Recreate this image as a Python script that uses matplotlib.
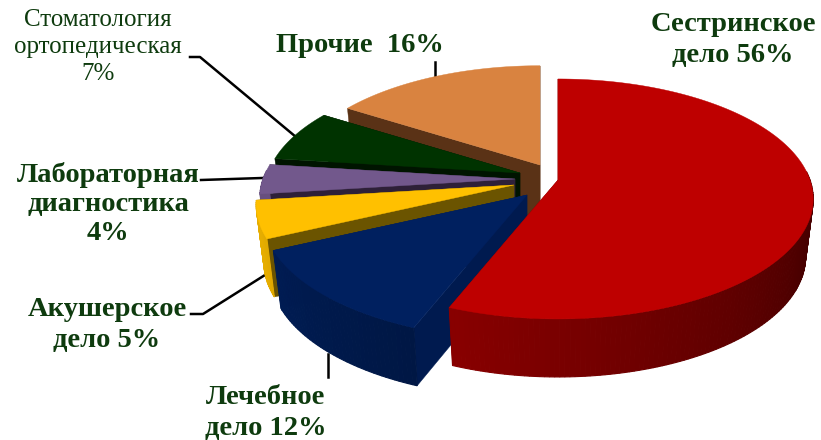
import numpy as np
import matplotlib
matplotlib.use('Agg')
import matplotlib.pyplot as plt

# share of each speciality, clockwise from 12 o'clock
specialities = ['Сестринское', 'Лечебное', 'Акушерское', 'Лабораторная', 'Стоматология', 'Прочие']
shares = [56, 12, 5, 4, 7, 16]
label_texts = ['Сестринское\nдело {}%', 'Лечебное\nдело {}%', 'Акушерское\nдело {}%',
               'Лабораторная\nдиагностика\n{}%', 'Стоматология\nортопедическая\n{}%', 'Прочие  {}%']

top_colors = ['#BE0000', '#00205F', '#FFC000', '#72588C', '#003300', '#D98340']
cut_colors = ['#7A0000', '#001A4F', '#6B5400', '#2E2038', '#001400', '#5A3216']
# where the tip of each exploded slice sits, pixels, and a small radius correction
tips = [(558, 180), (527, 195), (514, 185), (515, 179), (520, 173), (540, 165)]
radius = [1.0, 1.035, 1.01, 1.0, 1.0, 0.98]
label_pos = [(733, 40), (266, 413), (107, 325), (108, 204), (98, 47), (360, 45)]
label_size = [20.5, 20.5, 20.5, 20.5, 18, 20.5]
label_weight = ['bold', 'bold', 'bold', 'bold', 'normal', 'bold']
label_spacing = [1.33, 1.33, 1.33, 1.19, 1.285, 1.2]
leaders = [None,
           [(328, 354), (328, 377)],
           [(191, 314), (203, 314), (265, 275)],
           [(201, 180), (262, 178)],
           [(190, 57), (200, 57), (296, 137)],
           [(435, 62), (435, 77)]]

RX, RY, K = 252, 117, 0.158
DEPTH = 58
SHRINK = 0.97


def project(angle, tip, r=1.0, low=False):
    # angle in degrees clockwise from top, simple perspective on the disc
    a = np.radians(angle)
    x, y = r * np.sin(a), r * np.cos(a)
    w = 1 + K * y
    s = SHRINK if low else 1.0
    px = tip[0] + s * RX * x / w
    py = tip[1] - RY * y / w + (DEPTH if low else 0)
    return px, py


def shade(color, f):
    rgb = np.array(matplotlib.colors.to_rgb(color))
    return tuple(rgb * f)


fig = plt.figure(figsize=(8.21, 4.40), dpi=100)
ax = fig.add_axes([0, 0, 1, 1])
ax.set_xlim(0, 821)
ax.set_ylim(440, 0)
ax.axis('off')

for pts in leaders:
    if pts is not None:
        ax.plot([p[0] for p in pts], [p[1] for p in pts], color='black', lw=1.8, zorder=1)

edges = np.cumsum([0] + shares) / sum(shares) * 360

# back slices first, the big red one last
for n, i in enumerate([5, 4, 3, 2, 1, 0]):
    start, end = edges[i], edges[i + 1]
    tip = tips[i]
    r = radius[i]
    z = 2 + n
    ang = np.linspace(start, end, int(end - start) + 2)

    # flat faces of the cuts
    for a in (start, end):
        p = [(tip[0], tip[1]), project(a, tip, r), project(a, tip, r, low=True),
             (tip[0], tip[1] + DEPTH)]
        ax.fill([q[0] for q in p], [q[1] for q in p], color=cut_colors[i], lw=0.3, zorder=z)

    # outer wall, darker to the right, only the part facing the viewer
    for a0, a1 in zip(ang[:-1], ang[1:]):
        mid = 0.5 * (a0 + a1)
        if np.cos(np.radians(mid)) > 0.08:
            continue
        f = np.clip(0.38 + 0.0037 * (mid - 110), 0.38, 0.9)
        p = [project(a0, tip, r), project(a1, tip, r), project(a1, tip, r, low=True), project(a0, tip, r, low=True)]
        c = shade(top_colors[i], f)
        ax.fill([q[0] for q in p], [q[1] for q in p], color=c, lw=0.8, zorder=z)

    # top face
    xs, ys = project(ang, tip, r)
    ax.fill(np.r_[tip[0], xs], np.r_[tip[1], ys], color=top_colors[i], lw=0.3, zorder=z)

for i, txt in enumerate(label_texts):
    ax.text(label_pos[i][0], label_pos[i][1], txt.format(shares[i]), ha='center', va='center',
            family='Liberation Serif', weight=label_weight[i], fontsize=label_size[i],
            color='#0E3B0E', linespacing=label_spacing[i], zorder=10)

fig.savefig('out.png', dpi=100)
